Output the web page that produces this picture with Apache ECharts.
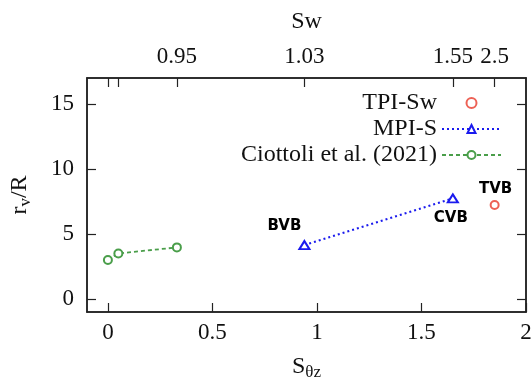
<!DOCTYPE html>
<html><head><meta charset="utf-8">
<script src="https://cdn.jsdelivr.net/npm/echarts@6/dist/echarts.min.js"></script>
<style>html,body{margin:0;padding:0;background:#fff}#c{width:532px;height:384px}</style>
</head><body><div id="c"></div>
<script>
// ---- data ----
var tpiX = [1.85];
var tpiY = [7.23];
var tpiNames = ['TVB'];
var mpiX = [0.94, 1.65];
var mpiY = [4.15, 7.74];
var mpiNames = ['BVB', 'CVB'];
var ciotX = [0, 0.05, 0.33];
var ciotY = [3.0, 3.5, 3.97];
var bottomTicks = [0, 0.5, 1, 1.5, 2];
var leftTicks = [0, 5, 10, 15];
var topTickPos = [0, 0.05, 0.33, 0.94, 1.65, 1.85];
var topLabelPos = [0.33, 0.94, 1.65, 1.85];
var topLabelText = ['0.95', '1.03', '1.55', '2.5'];
var seriesNames = ['TPI-Sw', 'MPI-S', 'Ciottoli et al. (2021)'];

function pairs(xs, ys) { return xs.map(function (x, i) { return [x, ys[i]]; }); }

var serif = 'Liberation Serif';
var axisCol = '#222';
var annStyle = { show: true, fontFamily: 'DejaVu Sans', fontWeight: 'bold', fontSize: 15, color: '#000', textBorderWidth: 0, opacity: 1 };

var mpiData = pairs(mpiX, mpiY).map(function (p, i) {
  var lab = Object.assign({}, annStyle, { formatter: mpiNames[i] });
  if (i === 0) { lab.position = 'top'; lab.offset = [-20, -2]; }
  else { lab.position = 'bottom'; lab.offset = [-2, 2]; }
  return { value: p, label: lab };
});
var tpiData = pairs(tpiX, tpiY).map(function (p, i) {
  return { value: p, label: Object.assign({}, annStyle, { formatter: tpiNames[i], position: 'top', offset: [1, 2] }) };
});

function axLine() { return { show: true, onZero: false, lineStyle: { color: axisCol, width: 1.5 } }; }
function axTick(vals) { return { show: true, inside: true, length: 9, customValues: vals, lineStyle: { color: axisCol, width: 1.2 } }; }

var chart = echarts.init(document.getElementById('c'), null, { renderer: 'canvas' });
chart.setOption({
  animation: false,
  backgroundColor: '#fff',
  grid: { left: 87, right: 6, top: 78, bottom: 72, show: true, borderColor: axisCol, borderWidth: 1.5,
    backgroundColor: 'transparent', containLabel: false, outerBoundsMode: 'none' },
  legend: {
    orient: 'vertical', right: 30, top: 90, align: 'right', padding: 0,
    itemWidth: 59, itemHeight: 10, itemGap: 0,
    textStyle: { fontFamily: serif, fontSize: 24, color: '#111', lineHeight: 26 },
    data: seriesNames
  },
  xAxis: [{
    type: 'value', min: -0.1, max: 2, position: 'bottom',
    axisLine: axLine(), axisTick: axTick(bottomTicks),
    axisLabel: { customValues: bottomTicks, fontFamily: serif, fontSize: 23, color: '#111', margin: 9 },
    splitLine: { show: false },
    name: 'S{sub|θz}', nameLocation: 'middle', nameGap: 40,
    nameTextStyle: { fontFamily: serif, fontSize: 24, color: '#111',
      rich: { sub: { fontFamily: serif, fontSize: 17, color: '#111', verticalAlign: 'bottom', padding: [12, 0, 0, 0] } } }
  }, {
    type: 'value', min: -0.1, max: 2, position: 'top',
    axisLine: axLine(), axisTick: axTick(topTickPos),
    axisLabel: { customValues: topLabelPos, fontFamily: serif, fontSize: 23, color: '#111', margin: 10,
      formatter: function (v) { var i = topLabelPos.indexOf(v); return i >= 0 ? topLabelText[i] : ''; } },
    splitLine: { show: false },
    name: 'Sw', nameLocation: 'middle', nameGap: 44,
    nameTextStyle: { fontFamily: serif, fontSize: 24, color: '#111' }
  }],
  yAxis: [{
    type: 'value', min: -1, max: 17, position: 'left',
    axisLine: axLine(), axisTick: axTick(leftTicks),
    axisLabel: { customValues: leftTicks, fontFamily: serif, fontSize: 23, color: '#111', margin: 13 },
    splitLine: { show: false },
    name: 'r{sub|v}/R', nameLocation: 'middle', nameGap: 53, nameRotate: 90,
    nameTextStyle: { fontFamily: serif, fontSize: 24, color: '#111',
      rich: { sub: { fontFamily: serif, fontSize: 17, color: '#111', verticalAlign: 'bottom', padding: [12, 0, 0, 0] } } }
  }, {
    type: 'value', min: -1, max: 17, position: 'right',
    axisLine: axLine(), axisTick: axTick(leftTicks),
    axisLabel: { show: false },
    splitLine: { show: false }
  }],
  series: [{
    name: seriesNames[0], type: 'scatter', xAxisIndex: 0, yAxisIndex: 0,
    symbol: 'emptyCircle', symbolSize: 8,
    itemStyle: { color: '#e8392a', borderWidth: 1.6 },
    data: tpiData, z: 5
  }, {
    name: seriesNames[1], type: 'line', xAxisIndex: 0, yAxisIndex: 0,
    symbol: 'emptyTriangle', symbolSize: [10, 8],
    itemStyle: { color: '#1a1aee', borderWidth: 1.6 },
    lineStyle: { color: '#1a1aee', width: 2, type: [2, 3] },
    data: mpiData, z: 4
  }, {
    name: seriesNames[2], type: 'line', xAxisIndex: 0, yAxisIndex: 0,
    symbol: 'emptyCircle', symbolSize: 8,
    itemStyle: { color: '#4a9e4a', borderWidth: 1.6 },
    lineStyle: { color: '#4a9e4a', width: 1.8, type: [4, 3] },
    data: pairs(ciotX, ciotY), z: 4
  }]
});
</script></body></html>
